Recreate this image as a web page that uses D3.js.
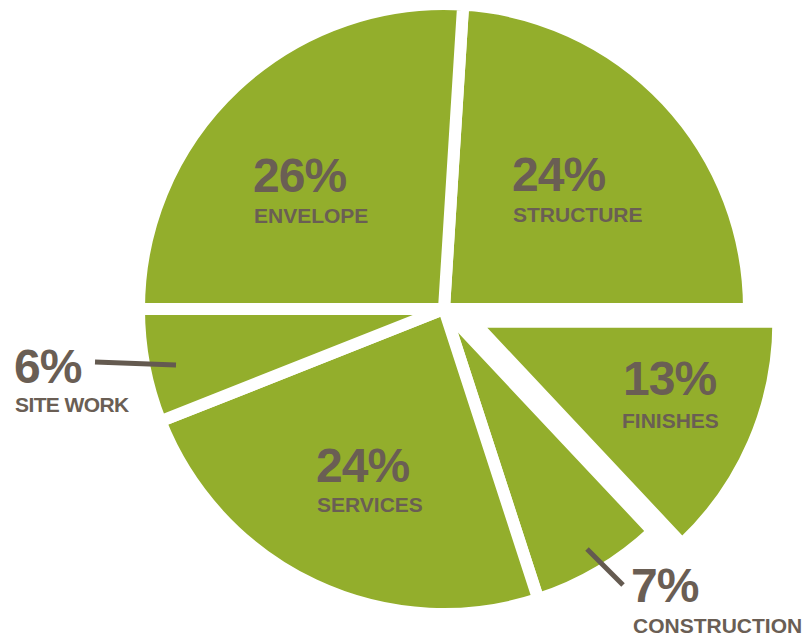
<!DOCTYPE html>
<html>
<head>
<meta charset="utf-8">
<script src="https://cdn.jsdelivr.net/npm/d3@7"></script>
<style>
  html, body { margin: 0; padding: 0; background: #fff; }
  svg { display: block; }
  text { font-family: "Liberation Sans", Arial, sans-serif; font-weight: bold; fill: #6a5e54; }
</style>
</head>
<body>
<svg id="chart" width="804" height="636"></svg>
<script>
// Cost breakdown by category (percent of total)
const categories = ["STRUCTURE", "FINISHES", "CONSTRUCTION", "SERVICES", "SITE WORK", "ENVELOPE"];
const shares = [24, 13, 7, 24, 6, 26];
const valueLabels = ["24%", "13%", "7%", "24%", "6%", "26%"];

const W = 804, H = 636;
const cx = 444, cy = 309;
const radius = 299;
const gap = 12;            // white band between slices
const explodeDist = 32;    // pull-out distance for the highlighted slice
const exploded = new Set(["FINISHES"]);
const green = "#93ae2c";
const ink = "#6a5e54";
const leaderInk = "#645a50";

const data = categories.map((c, i) => ({ category: c, value: shares[i], label: valueLabels[i] }));

const start = 3.6 * Math.PI / 180;
const pie = d3.pie().sort(null).value(d => d.value)
  .startAngle(start).endAngle(start + 2 * Math.PI);

// outer radius grows by half the band so the white stroke leaves the visible radius
const arc = d3.arc().innerRadius(0).outerRadius(radius + gap / 2);

const svg = d3.select("#chart");
const g = svg.append("g").attr("transform", `translate(${cx},${cy})`);

const arcs = pie(data);

g.selectAll("path.slice")
  .data(arcs)
  .join("path")
  .attr("class", "slice")
  .attr("d", arc)
  .attr("fill", green)
  .attr("stroke", "#fff")
  .attr("stroke-width", gap)
  .attr("stroke-linejoin", "miter")
  .attr("transform", d => {
    if (!exploded.has(d.data.category)) return null;
    const mid = (d.startAngle + d.endAngle) / 2;
    return `translate(${explodeDist * Math.sin(mid)},${-explodeDist * Math.cos(mid)})`;
  });

// Label placement (page coordinates): value text and category name
const labelLayout = {
  "ENVELOPE":     { x: 253, y: 192, nx: 254, ny: 223 },
  "STRUCTURE":    { x: 512, y: 191, nx: 513, ny: 222 },
  "FINISHES":     { x: 623, y: 395, nx: 622, ny: 428 },
  "SERVICES":     { x: 316, y: 482, nx: 317, ny: 512 },
  "SITE WORK":    { x: 14,  y: 383, nx: 15,  ny: 412 },
  "CONSTRUCTION": { x: 631, y: 602, nx: 633, ny: 633 }
};

// Leader lines for the slices labelled outside the pie
const leaders = {
  "SITE WORK":    [[95, 362], [176, 365]],
  "CONSTRUCTION": [[587, 549], [623, 585]]
};

svg.selectAll("line.leader")
  .data(data.filter(d => leaders[d.category]))
  .join("line")
  .attr("class", "leader")
  .attr("x1", d => leaders[d.category][0][0])
  .attr("y1", d => leaders[d.category][0][1])
  .attr("x2", d => leaders[d.category][1][0])
  .attr("y2", d => leaders[d.category][1][1])
  .attr("stroke", leaderInk)
  .attr("stroke-width", 5);

const labels = svg.selectAll("g.label")
  .data(data)
  .join("g")
  .attr("class", "label");

labels.append("text")
  .attr("x", d => labelLayout[d.category].x)
  .attr("y", d => labelLayout[d.category].y)
  .attr("font-size", 48)
  .attr("letter-spacing", -1)
  .style("fill", ink)
  .text(d => d.label);

labels.append("text")
  .attr("x", d => labelLayout[d.category].nx)
  .attr("y", d => labelLayout[d.category].ny)
  .attr("font-size", 21)
  .attr("letter-spacing", d => d.category === "SITE WORK" ? -0.6 : 0)
  .style("fill", ink)
  .text(d => d.category);
</script>
</body>
</html>
